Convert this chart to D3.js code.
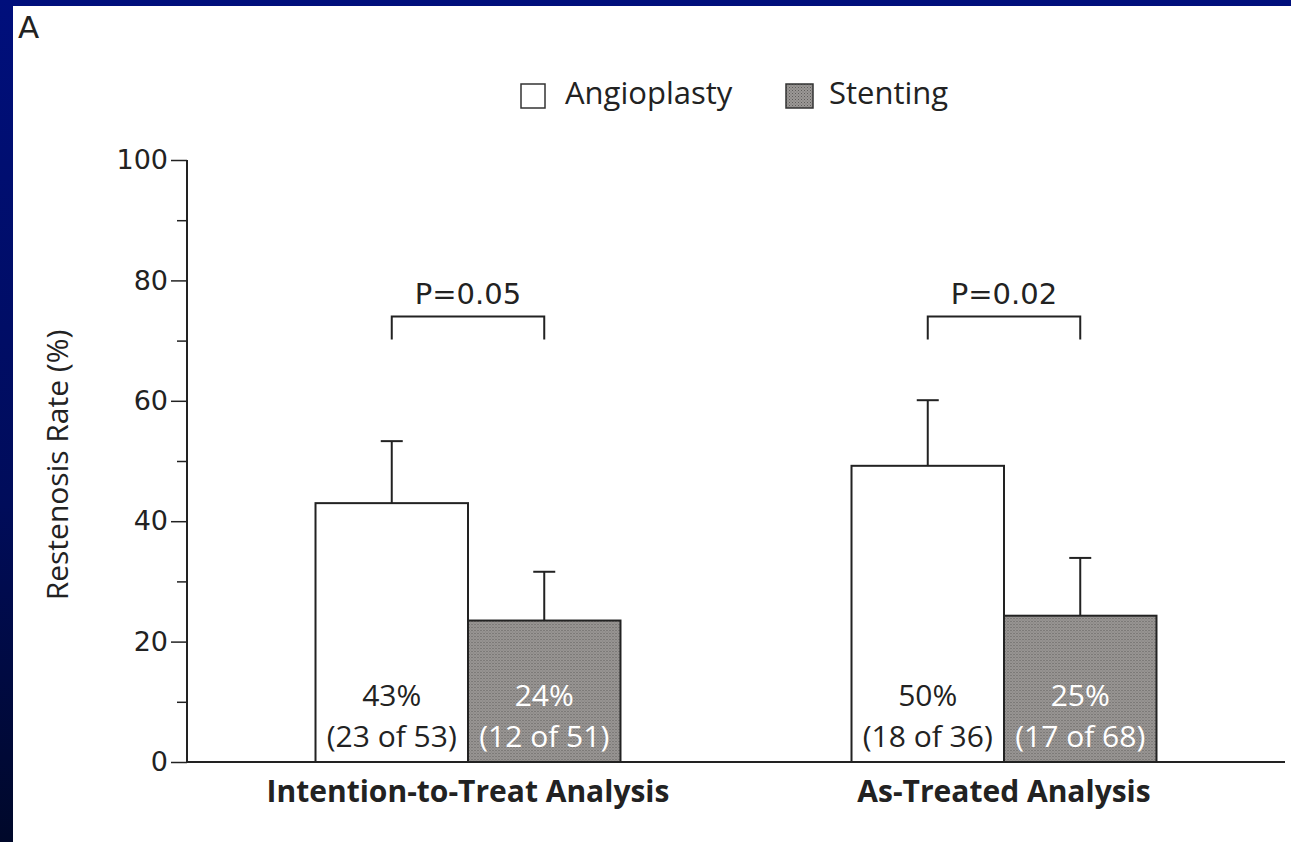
<!DOCTYPE html>
<html>
<head>
<meta charset="utf-8">
<script src="https://cdn.jsdelivr.net/npm/d3@7"></script>
<style>
  html, body { margin: 0; padding: 0; }
  body { width: 1291px; height: 842px; overflow: hidden;
         background: linear-gradient(to bottom, #000f7c 0%, #000c5a 60%, #00082a 100%); }
  #chart { position: absolute; left: 13px; top: 6px; }
  text { font-family: "Open Sans", "DejaVu Sans", sans-serif; fill: #222; }
</style>
</head>
<body>
<div id="chart"></div>
<script>
const groups = ["Intention-to-Treat Analysis", "As-Treated Analysis"];
const series = ["Angioplasty", "Stenting"];
// bar heights (%) and error bar tops (%)
const angioplastyValues = [43, 49.2];
const stentingValues = [23.5, 24.3];
const angioplastyErrTop = [53.3, 60.1];
const stentingErrTop = [31.6, 33.9];
const pctLabels = [["43%", "24%"], ["50%", "25%"]];
const countLabels = [["(23 of 53)", "(12 of 51)"], ["(18 of 36)", "(17 of 68)"]];
const pValues = ["P=0.05", "P=0.02"];
const yTicks = [0, 20, 40, 60, 80, 100];
const yMinorTicks = [10, 30, 50, 70, 90];

const width = 1278, height = 836;
const ox = -13, oy = -6; // page -> panel offset

const svg = d3.select("#chart").append("svg")
    .attr("width", width)
    .attr("height", height);

svg.append("rect").attr("width", width).attr("height", height).attr("fill", "#fff");

// stippled gray for stenting
const defs = svg.append("defs");
const pat = defs.append("pattern")
    .attr("id", "stipple")
    .attr("width", 3).attr("height", 3)
    .attr("patternUnits", "userSpaceOnUse");
pat.append("rect").attr("width", 3).attr("height", 3).attr("fill", "#9b9896");
pat.append("rect").attr("x", 0).attr("y", 0).attr("width", 1).attr("height", 1).attr("fill", "#5e5c5a");
pat.append("rect").attr("x", 1.5).attr("y", 1.5).attr("width", 1).attr("height", 1).attr("fill", "#6e6c6a");

const g = svg.append("g").attr("transform", `translate(${ox},${oy})`);

const y = d3.scaleLinear().domain([0, 100]).range([762, 160]);
const x0 = d3.scaleBand().domain(groups).range([200, 1272]).paddingInner(0.431).paddingOuter(0.2155);
const x1 = d3.scaleBand().domain(series).range([0, x0.bandwidth()]);

const rows = groups.map((grp, i) => ({
    group: grp, i: i,
    bars: [
        { key: "Angioplasty", value: angioplastyValues[i], err: angioplastyErrTop[i] },
        { key: "Stenting", value: stentingValues[i], err: stentingErrTop[i] }
    ]
}));

// panel letter
g.append("text").attr("x", 18).attr("y", 38)
    .style("font-size", "31px").style("font-family", "'DejaVu Sans', sans-serif").text("A");

// legend
const legend = g.append("g");
legend.append("rect").attr("x", 521).attr("y", 84).attr("width", 24).attr("height", 24)
    .attr("fill", "#fff").attr("stroke", "#333").attr("stroke-width", 1.5);
legend.append("text").attr("x", 565).attr("y", 104).style("font-size", "31px").text(series[0]);
legend.append("rect").attr("x", 786).attr("y", 84).attr("width", 27).attr("height", 24)
    .attr("fill", "url(#stipple)").attr("stroke", "#333").attr("stroke-width", 1.5);
legend.append("text").attr("x", 829).attr("y", 104).style("font-size", "31px").text(series[1]);

// y axis
const yAxis = g.append("g").attr("transform", "translate(187,0)")
    .call(d3.axisLeft(y).tickValues(yTicks).tickSize(16).tickPadding(3));
yAxis.select(".domain").attr("stroke", "#222").attr("stroke-width", 2).attr("d", `M0,${y(100)}V${y(0)}`);
yAxis.selectAll(".tick line").attr("stroke", "#222").attr("stroke-width", 1.5);
yAxis.selectAll(".tick text").style("font-size", "27px").style("font-family", "'DejaVu Sans', sans-serif")
    .attr("fill", "#222");
g.append("g").attr("transform", "translate(187,0)")
    .call(d3.axisLeft(y).tickValues(yMinorTicks).tickSize(10).tickFormat(""))
    .call(s => s.select(".domain").remove())
    .selectAll(".tick line").attr("stroke", "#222").attr("stroke-width", 1.5);

g.append("text")
    .attr("transform", `translate(68,${y(50) + 4}) rotate(-90)`)
    .attr("text-anchor", "middle")
    .style("font-size", "30px")
    .text("Restenosis Rate (%)");

// bars
const grpG = g.selectAll(".grp").data(rows).enter().append("g")
    .attr("class", "grp")
    .attr("transform", d => `translate(${x0(d.group)},0)`);

grpG.selectAll("rect.bar").data(d => d.bars).enter().append("rect")
    .attr("class", "bar")
    .attr("x", d => x1(d.key))
    .attr("y", d => y(d.value))
    .attr("width", x1.bandwidth())
    .attr("height", d => y(0) - y(d.value))
    .attr("fill", d => d.key === "Stenting" ? "url(#stipple)" : "#fff")
    .attr("stroke", "#222").attr("stroke-width", 2);

// error bars
const err = grpG.selectAll("g.err").data(d => d.bars).enter().append("g").attr("class", "err");
err.append("line")
    .attr("x1", d => x1(d.key) + x1.bandwidth() / 2)
    .attr("x2", d => x1(d.key) + x1.bandwidth() / 2)
    .attr("y1", d => y(d.value))
    .attr("y2", d => y(d.err))
    .attr("stroke", "#222").attr("stroke-width", 2);
err.append("line")
    .attr("x1", d => x1(d.key) + x1.bandwidth() / 2 - 11)
    .attr("x2", d => x1(d.key) + x1.bandwidth() / 2 + 11)
    .attr("y1", d => y(d.err))
    .attr("y2", d => y(d.err))
    .attr("stroke", "#222").attr("stroke-width", 2);

// labels inside bars
grpG.each(function(d) {
    const gg = d3.select(this);
    series.forEach((s, j) => {
        const cx = x1(s) + x1.bandwidth() / 2;
        const col = s === "Stenting" ? "#fff" : "#222";
        gg.append("text").attr("x", cx).attr("y", 706).attr("text-anchor", "middle")
            .style("font-size", "30px").style("fill", col).text(pctLabels[d.i][j]);
        gg.append("text").attr("x", cx).attr("y", 747).attr("text-anchor", "middle")
            .style("font-size", "30px").style("fill", col).text(countLabels[d.i][j]);
    });
});

// significance brackets
grpG.each(function(d) {
    const gg = d3.select(this);
    const xa = x1("Angioplasty") + x1.bandwidth() / 2;
    const xb = x1("Stenting") + x1.bandwidth() / 2;
    const top = y(74), bot = y(70.2);
    gg.append("path")
        .attr("d", `M${xa},${bot}V${top}H${xb}V${bot}`)
        .attr("fill", "none").attr("stroke", "#222").attr("stroke-width", 2);
    gg.append("text").attr("x", (xa + xb) / 2).attr("y", 304).attr("text-anchor", "middle")
        .style("font-size", "29px").style("font-family", "'DejaVu Sans', sans-serif").text(pValues[d.i]);
});

// baseline / x axis
const xAxis = g.append("g").attr("transform", `translate(0,${y(0)})`)
    .call(d3.axisBottom(x0).tickSize(0).tickPadding(16));
xAxis.select(".domain").attr("stroke", "#222").attr("stroke-width", 2).attr("d", "M187,0H1285");
xAxis.selectAll(".tick text").style("font-size", "30px").style("font-weight", "bold")
    .style("font-family", "'Open Sans', sans-serif").attr("fill", "#222").attr("dy", "0.8em");
</script>
</body>
</html>
